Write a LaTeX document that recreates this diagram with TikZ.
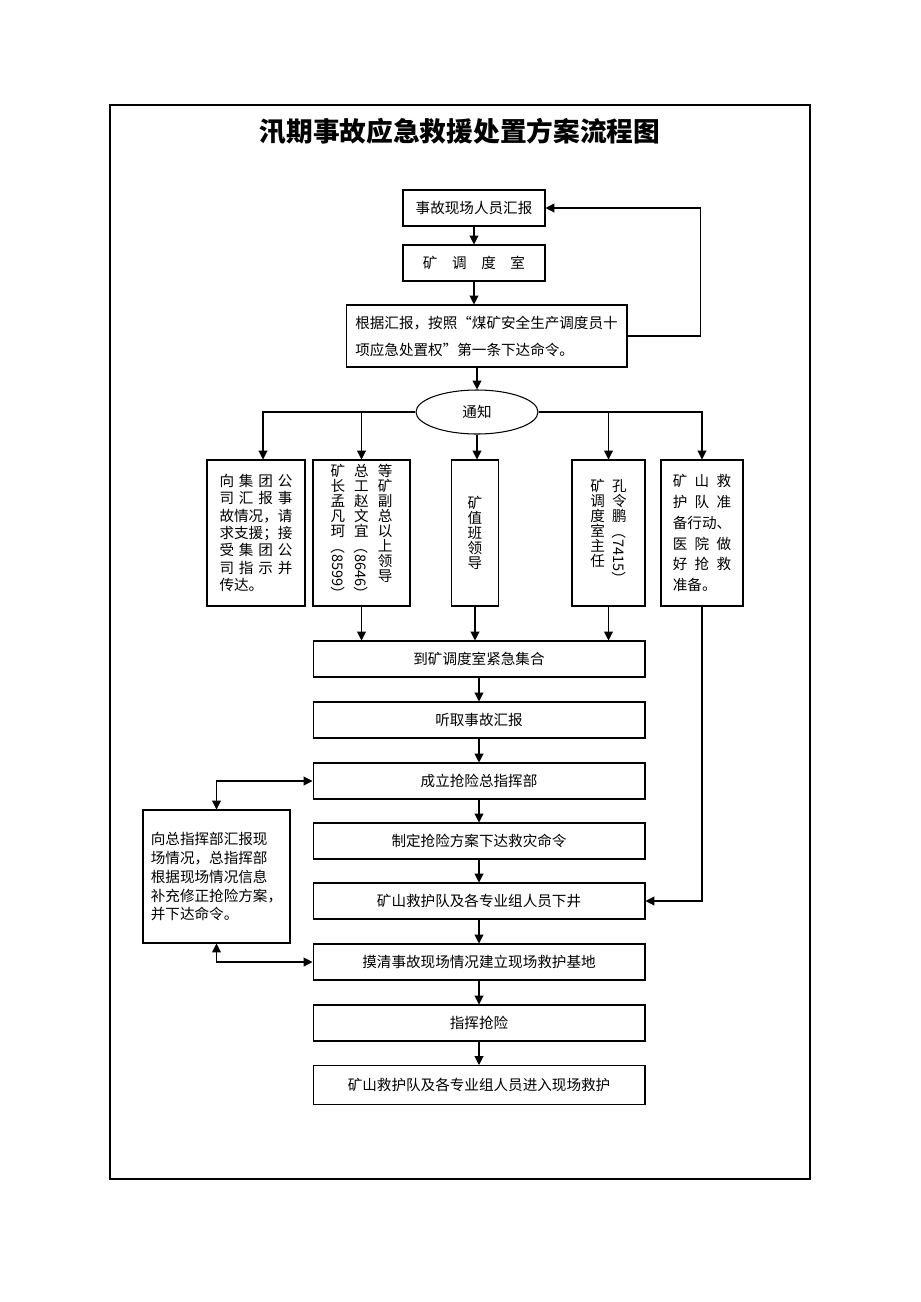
\documentclass[tikz,border=0pt]{standalone}
\usepackage{fontspec}
\usepackage{graphicx}
\setmainfont{Noto Sans CJK SC}
\usetikzlibrary{shapes.geometric,arrows.meta}
\newcommand\vcol[1]{\parbox[t]{1.2em}{\centering\fontsize{8.3}{8.5}\selectfont\lineskiplimit=-2em\lineskip=0pt #1}}
\newcommand\vnum[1]{\raisebox{0.8em}{\rotatebox{-90}{#1}}}
\newcommand\spreadline[2]{\makebox[#1][s]{#2}}
\tikzset{
  txt/.style={font=\fontsize{8.3}{10}\selectfont},
  box/.style={draw, line width=0.6pt, inner sep=0pt, minimum height=0.72cm, txt},
  mainbox/.style={box, minimum width=6.64cm},
  tallbox/.style={box, minimum height=2.92cm},
  arr/.style={line width=0.6pt, -{Triangle[length=5pt,width=5pt]}},
  arrboth/.style={line width=0.6pt, {Triangle[length=5pt,width=5pt]}-{Triangle[length=5pt,width=5pt]}},
}
\begin{document}
\begin{tikzpicture}[x=0.02cm, y=-0.02cm]
\useasboundingbox (0,0) rectangle (920,1302);
% Frame and title
\draw[line width=0.6pt] (110,105) rectangle (810,1179);
\node[font=\fontsize{15.2}{18}\selectfont\bfseries] (title) at (460,131) {汛期事故应急救援处置方案流程图};

% Report chain at the top
\node[box, minimum width=2.84cm] (report) at (474,208) {事故现场人员汇报};
\node[box, minimum width=2.84cm] (dispatch) at (474,263) {\spreadline{7em}{矿\hfill 调\hfill 度\hfill 室}};
\node[box, minimum width=5.62cm, minimum height=1.24cm, align=left, font=\fontsize{8.3}{15.3}\selectfont] (order) at (486.5,336) {根据汇报，按照“煤矿安全生产调度员十\\项应急处置权”第一条下达命令。};
\node[draw, ellipse, line width=0.6pt, minimum width=2.44cm, minimum height=0.88cm, inner sep=0pt, txt] (notify) at (477,412) {通知};

% The five notified parties
\node[tallbox, minimum width=1.96cm, align=left, font=\fontsize{8.3}{9.9}\selectfont] (group) at (256,533) {\spreadline{5em}{向\hfill 集\hfill 团\hfill 公}\\\spreadline{5em}{司\hfill 汇\hfill 报\hfill 事}\\故情况，请\\求支援；接\\\spreadline{5em}{受\hfill 集\hfill 团\hfill 公}\\\spreadline{5em}{司\hfill 指\hfill 示\hfill 并}\\传达。};
\node[tallbox, minimum width=1.94cm] (leaders) at (361.5,533) {\vcol{矿\\长\\孟\\凡\\珂\\\vnum{（8599）}}\hspace{3.5pt}\vcol{总\\工\\赵\\文\\宜\\\vnum{（8646）}}\hspace{3.5pt}\vcol{等\\矿\\副\\总\\以\\上\\领\\导}};
\node[tallbox, minimum width=0.94cm] (duty) at (475,533) {\vcol{矿\\值\\班\\领\\导}};
\node[tallbox, minimum width=1.46cm] (chief) at (608.5,533) {\vcol{矿\\调\\度\\室\\主\\任}\hspace{2.5pt}\vcol{孔\\令\\鹏\\\vnum{（7415）}}};
\node[tallbox, minimum width=1.64cm, align=left, font=\fontsize{8.3}{11.9}\selectfont] (rescue) at (702,533) {\spreadline{4em}{矿\hfill 山\hfill 救}\\\spreadline{4em}{护\hfill 队\hfill 准}\\备行动、\\\spreadline{4em}{医\hfill 院\hfill 做}\\\spreadline{4em}{好\hfill 抢\hfill 救}\\准备。};

% Main column
\node[mainbox] (gather) at (479,659) {到矿调度室紧急集合};
\node[mainbox] (listen) at (479,720) {听取事故汇报};
\node[mainbox] (hq) at (479,781) {成立抢险总指挥部};
\node[mainbox] (plan) at (479,841) {制定抢险方案下达救灾命令};
\node[mainbox] (shaft) at (479,901) {矿山救护队及各专业组人员下井};
\node[mainbox] (base) at (479,962) {摸清事故现场情况建立现场救护基地};
\node[mainbox] (direct) at (479,1023) {指挥抢险};
\node[mainbox, minimum height=0.78cm] (enter) at (479,1085) {矿山救护队及各专业组人员进入现场救护};

% Side box for feedback to headquarters
\node[box, minimum width=2.94cm, minimum height=2.66cm, align=left, font=\fontsize{8.3}{10.8}\selectfont] (field) at (216.5,876.5) {向总指挥部汇报现\\场情况，总指挥部\\根据现场情况信息\\补充修正抢险方案，\\并下达命令。};

% Connectors
\draw[arr] (report) -- (dispatch);
\draw[arr] (dispatch.south) -- (dispatch.south |- order.north);
\draw[arr] (order.east) -- ++(73,0) |- (report.east);
\draw[arr] (order.south -| notify) -- (notify.north);
\draw[arr] (notify.west) -| ([xshift=0.14cm]group.north);
\draw[arr] (notify.west) -| (leaders.north);
\draw[arr] (notify.south) -- (notify.south |- duty.north);
\draw[arr] (notify.east) -| (chief.north);
\draw[arr] (notify.east) -| (rescue.north);
\draw[arr] (leaders.south) -- (leaders.south |- gather.north);
\draw[arr] (duty.south) -- (duty.south |- gather.north);
\draw[arr] (chief.south) -- (chief.south |- gather.north);
\draw[arr] (rescue.south) |- (shaft.east);
\draw[arr] (gather) -- (listen);
\draw[arr] (listen) -- (hq);
\draw[arr] (hq) -- (plan);
\draw[arr] (plan) -- (shaft);
\draw[arr] (shaft) -- (base);
\draw[arr] (base) -- (direct);
\draw[arr] (direct) -- (enter);
\draw[arrboth] (field.north) |- (hq.west);
\draw[arrboth] (field.south) |- (base.west);
\end{tikzpicture}
\end{document}
